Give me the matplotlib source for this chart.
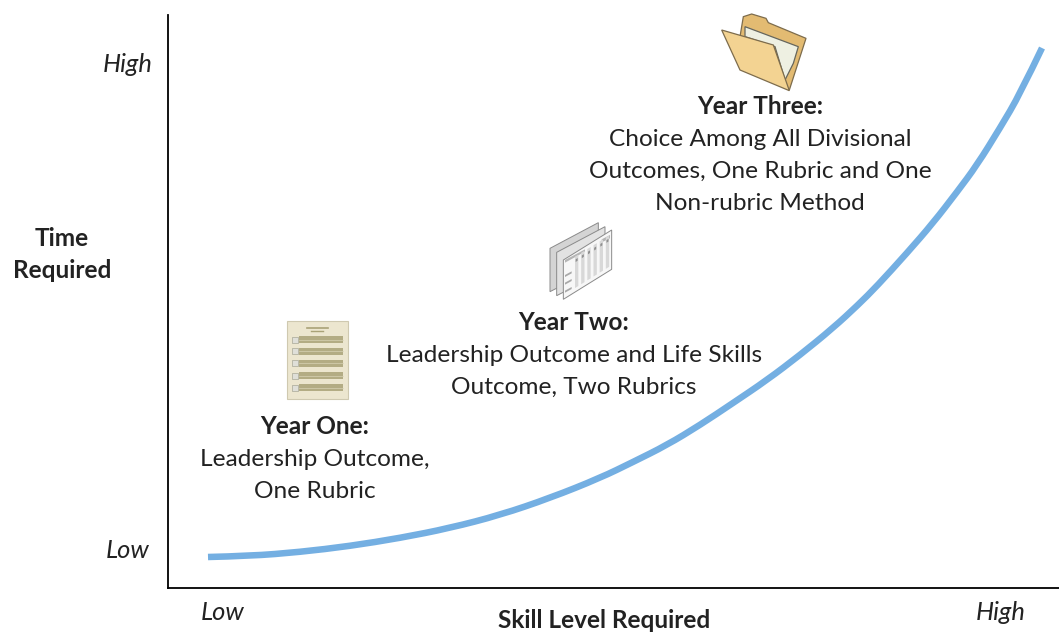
import matplotlib
matplotlib.use('Agg')
import matplotlib.pyplot as plt
from matplotlib.patches import Polygon, Rectangle, PathPatch
from matplotlib.path import Path

plt.rcParams['font.family'] = ['Lato', 'DejaVu Sans']

# curve
skill = [208, 250, 300, 350, 400, 450, 500, 550, 600, 633, 667, 700, 733, 767, 800,
         833, 858, 877, 907, 933, 957, 977, 1000, 1020, 1042]
time_req = [557, 556, 552, 546, 538, 528, 515, 498, 478, 462, 445, 425, 403, 380, 355,
            328, 305, 286, 253, 223, 192, 165, 128, 94, 48]
x_ticks = [223, 1001]
x_tick_labels = ['Low', 'High']
y_ticks = [63, 548]
y_tick_labels = ['High', 'Low']

year_one = ['Leadership Outcome,', 'One Rubric']
year_two = ['Leadership Outcome and Life Skills', 'Outcome, Two Rubrics']
year_three = ['Choice Among All Divisional', 'Outcomes, One Rubric and One', 'Non-rubric Method']

FS = 17.6
W, H = 1059, 632
L, R, T, B = 168, 1059, 15, 588

fig = plt.figure(figsize=(W / 100, H / 100), dpi=100)
ax = fig.add_axes([L / W, 1 - B / H, (R - L) / W, (B - T) / H])
ax.set_xlim(L, R)
ax.set_ylim(B, T)
ax.spines['top'].set_visible(False)
ax.spines['right'].set_visible(False)
ax.spines['left'].set_linewidth(1.3)
ax.spines['bottom'].set_linewidth(1.3)

# smooth through the read points with quadratic segments
verts = [(skill[0], time_req[0])]
codes = [Path.MOVETO]
for i in range(1, len(skill) - 1):
    end = ((skill[i] + skill[i + 1]) / 2, (time_req[i] + time_req[i + 1]) / 2)
    if i == len(skill) - 2:
        end = (skill[-1], time_req[-1])
    verts += [(skill[i], time_req[i]), end]
    codes += [Path.CURVE3, Path.CURVE3]
ax.add_patch(PathPatch(Path(verts, codes), fc='none', ec='#74afe2', lw=4.7, capstyle='butt',
                       joinstyle='round'))

ax.set_xticks(x_ticks, x_tick_labels, style='italic', fontsize=18.4)
ax.set_yticks(y_ticks, y_tick_labels, style='italic', fontsize=18.4)
ax.tick_params(length=0, colors='#222222')
ax.tick_params(axis='x', pad=9)
ax.tick_params(axis='y', pad=29)
for t in ax.get_yticklabels():
    t.set_ha('center')


def label(x, y, s, **kw):
    ax.text(x, y, s, ha='center', va='center', fontsize=FS, color='#222222', clip_on=False, **kw)


def block(x, y, head, lines):
    label(x, y, head, weight='bold')
    for i, s in enumerate(lines):
        label(x, y + 1 + 32 * (i + 1), s)


label(62, 239, 'Time', weight='bold')
label(62, 271, 'Required', weight='bold')
label(604, 620, 'Skill Level Required', weight='bold')
block(315, 426, 'Year One:', year_one)
block(574, 322, 'Year Two:', year_two)
block(760, 106, 'Year Three:', year_three)


def poly(pts, ox, oy, **kw):
    # pts are in 3x zoomed pixels of the icon
    ax.add_patch(Polygon([(ox + a / 3, oy + b / 3) for a, b in pts], clip_on=False, **kw))


# year one document
ax.add_patch(Rectangle((287, 321), 61, 78, fc='#ece6cf', ec='#cfc9b0', lw=0.8))
ax.plot([307, 328], [328, 328], color='#a9a277', lw=1.2)
ax.plot([311, 323], [330.5, 330.5], color='#a9a277', lw=1.0)
for y in [339.5, 351, 363, 375.5, 387.5]:
    ax.add_patch(Rectangle((299, y - 3.5), 44, 7, fc='#b3ac84', ec='none'))
    ax.plot([299, 343], [y, y], color='#d8d2b4', lw=0.5)
    ax.add_patch(Rectangle((292, y - 3), 5.5, 6, fc='#dfdfd8', ec='#999988', lw=0.4))

# year two sheets
for off, fc in [(0, '#d4d4d4'), (20, '#e2e2e2')]:
    poly([(60 + off, 115 + off * 0.6), (205 + off, 38 + off * 0.6), (205 + off, 170 + off * 0.6),
          (60 + off, 245 + off * 0.6)], 530, 210, fc=fc, ec='#8a8a8a', lw=0.7)
poly([(100, 150), (245, 60), (245, 178), (100, 268)], 530, 210, fc='#f7f7f7', ec='#8a8a8a', lw=0.7)
poly([(105, 150), (165, 118), (165, 125), (105, 158)], 530, 210, fc='#b5b5b5', ec='none')
poly([(215, 88), (240, 75), (240, 85), (215, 97)], 530, 210, fc='#b5b5b5', ec='none')
# table columns
for i in range(6):
    a = 135 + i * 18.5
    poly([(a, 140 - i * 11.5), (a + 10, 134 - i * 11.5), (a + 10, 228 - i * 11.5), (a, 234 - i * 11.5)],
         530, 210, fc='#d8d8d8', ec='none')
    poly([(a + 2, 148 - i * 11.5), (a + 8, 144 - i * 11.5), (a + 8, 152 - i * 11.5), (a + 2, 156 - i * 11.5)],
         530, 210, fc='#8f8f8f', ec='none')
for b in [195, 218, 242]:
    poly([(105, b), (125, b - 11), (125, b - 5), (105, b + 6)], 530, 210, fc='#a8a8a8', ec='none')

# year three folder
poly([(130, 50), (155, 42), (198, 55), (205, 68), (318, 115), (268, 270), (120, 110)],
     700, 0, fc='#e3bb72', ec='#7d6c4c', lw=0.9)
poly([(135, 80), (295, 140), (280, 190), (255, 240), (225, 140), (135, 110)],
     700, 0, fc='#eef0e2', ec='#66665c', lw=0.9)
poly([(65, 90), (220, 135), (268, 272), (120, 210)], 700, 0, fc='#f3d392', ec='#7d6c4c', lw=0.9)

fig.savefig('out.png', dpi=100)
